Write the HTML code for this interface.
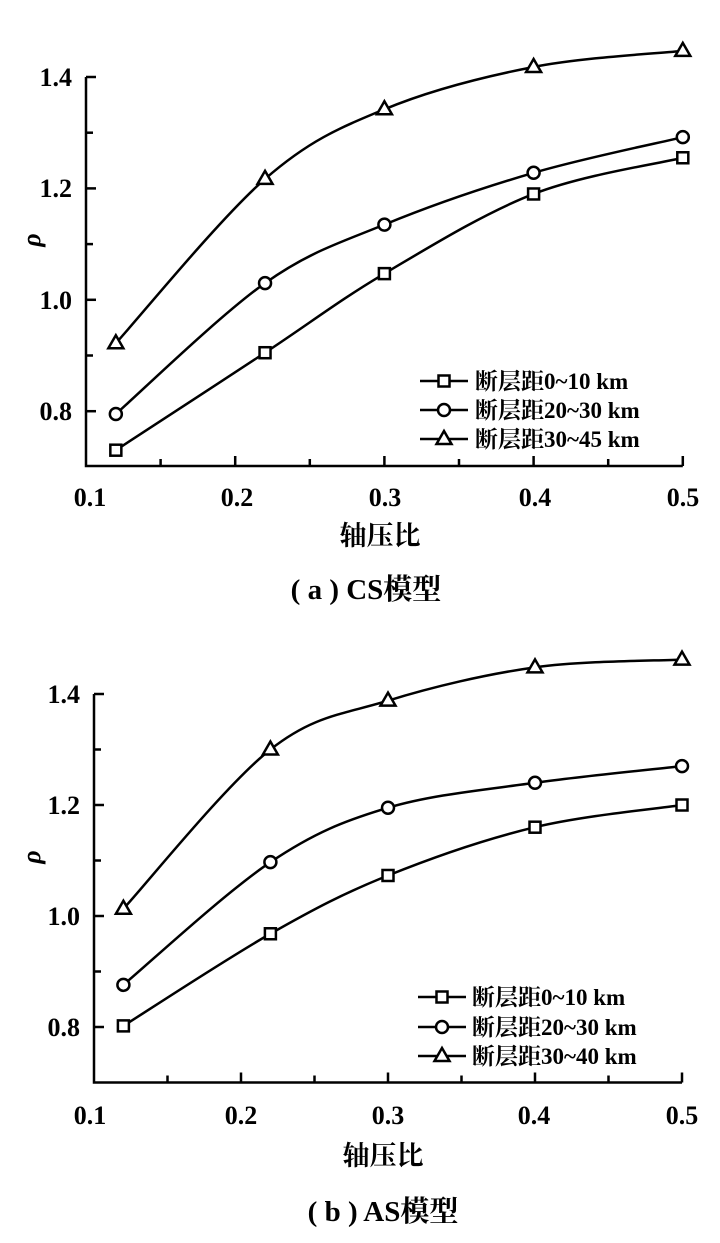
<!DOCTYPE html>
<html><head><meta charset="utf-8"><style>
html,body{margin:0;padding:0;background:#fff;}
svg{display:block;}
text{font-family:"Liberation Serif","Noto Serif CJK SC",serif;fill:#000;}
</style></head><body>
<svg id="s" width="720" height="1243" viewBox="0 0 720 1243" xmlns="http://www.w3.org/2000/svg">
<g id="g" stroke="#000" fill="none" stroke-width="2.5"></g>
<g font-size="26" font-weight="bold" text-anchor="middle">
<text x="90" y="506">0.1</text><text x="237" y="506">0.2</text><text x="385" y="506">0.3</text><text x="535" y="506">0.4</text><text x="683" y="506">0.5</text>
<text x="90" y="1124">0.1</text><text x="241" y="1124">0.2</text><text x="388" y="1124">0.3</text><text x="534" y="1124">0.4</text><text x="682" y="1124">0.5</text>
</g>
<g font-size="26" font-weight="bold" text-anchor="end">
<text x="72" y="86">1.4</text><text x="72" y="197">1.2</text><text x="72" y="309">1.0</text><text x="72" y="420">0.8</text>
<text x="80" y="703">1.4</text><text x="80" y="814">1.2</text><text x="80" y="925">1.0</text><text x="80" y="1036">0.8</text>
</g>
<text x="0" y="0" font-size="26" font-style="italic" font-weight="bold" transform="translate(40,240) rotate(-90)" text-anchor="middle">ρ</text>
<text x="0" y="0" font-size="26" font-style="italic" font-weight="bold" transform="translate(40,857) rotate(-90)" text-anchor="middle">ρ</text>
<g font-size="27" text-anchor="middle" font-weight="bold">
<text x="380" y="545">轴压比</text>
<text x="383" y="1165">轴压比</text>
<text x="366" y="599" font-size="29">( a ) CS模型</text>
<text x="383" y="1221" font-size="29">( b ) AS模型</text>
</g>
<g font-size="23" font-weight="bold">
<text x="475" y="389">断层距0~10 km</text>
<text x="475" y="418">断层距20~30 km</text>
<text x="475" y="447">断层距30~45 km</text>
<text x="472" y="1005">断层距0~10 km</text>
<text x="472" y="1035">断层距20~30 km</text>
<text x="472" y="1064">断层距30~40 km</text>
</g>
</svg>
<script>
var g=document.getElementById('g');var NS="http://www.w3.org/2000/svg";
function el(t,a){var e=document.createElementNS(NS,t);for(var k in a)e.setAttribute(k,a[k]);g.appendChild(e);return e;}
function marker(type,x,y){
 if(type==0) el('rect',{x:x-5.5,y:y-5.5,width:11,height:11,fill:'#fff'});
 else if(type==1) el('circle',{cx:x,cy:y,r:6,fill:'#fff'});
 else el('polygon',{points:(x)+','+(y-8)+' '+(x-7.5)+','+(y+5)+' '+(x+7.5)+','+(y+5),fill:'#fff'});
}
function curve(p){var d='M'+p[0][0]+','+p[0][1];
 for(var i=0;i<p.length-1;i++){var p0=p[i-1]||p[i],p1=p[i],p2=p[i+1],p3=p[i+2]||p2;
  var c1=[p1[0]+(p2[0]-p0[0])/6,p1[1]+(p2[1]-p0[1])/6],c2=[p2[0]-(p3[0]-p1[0])/6,p2[1]-(p3[1]-p1[1])/6];
  d+=' C'+c1+' '+c2+' '+p2;}
 el('path',{d:d});}
function chart(o){
 var X=function(v){return o.x0+(v-0.1)*o.sx},Y=function(v){return o.y14+(1.4-v)*o.sy};
 var yb=o.yb||Y(0.7);
 el('path',{d:'M'+o.x0+','+Y(1.4)+' V'+yb+' H'+X(0.5)});
 for(var v=0.8;v<=1.41;v+=0.1){var w=(Math.round(v*10)%2==0)?10:7;el('line',{x1:o.x0,x2:o.x0+w,y1:Y(v),y2:Y(v)});}
 for(var u=0.15;u<=0.51;u+=0.05){var w2=(Math.round(u*100)%10==0)?10:7;el('line',{x1:X(u),x2:X(u),y1:yb,y2:yb-w2});}
 var xs=[0.12,0.22,0.3,0.4,0.5];
 o.d.forEach(function(s,k){var p=xs.map(function(x,i){return [X(x),Y(s[i])]});curve(p);p.forEach(function(q){marker(k,q[0],q[1])});});
 o.leg.forEach(function(ly,k){el('line',{x1:o.lx,x2:o.lx+48,y1:ly,y2:ly});marker(k,o.lx+24,ly);});
}
chart({x0:86,sx:1492,y14:77,sy:557,yb:466,lx:420,leg:[381,410,439],
 d:[[0.73,0.905,1.047,1.19,1.255],[0.795,1.03,1.135,1.228,1.292],[0.922,1.217,1.342,1.418,1.447]]});
chart({x0:94,sx:1470,y14:694,sy:555,lx:418,leg:[997,1027,1056],
 d:[[0.802,0.968,1.073,1.16,1.2],[0.876,1.097,1.195,1.24,1.27],[1.013,1.3,1.388,1.448,1.462]]});
</script>
</body></html>
